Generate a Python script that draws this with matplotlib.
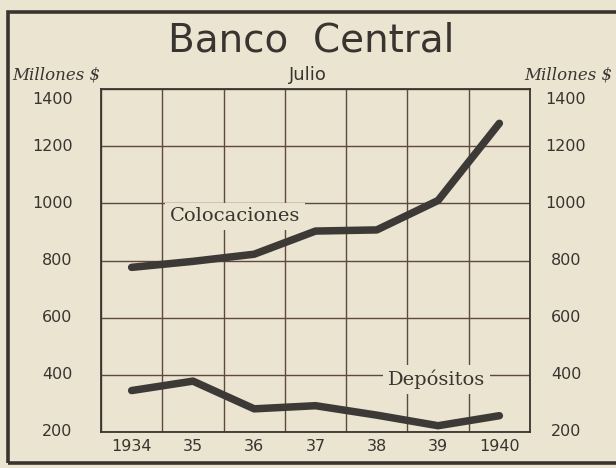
import matplotlib
matplotlib.use("Agg")
import matplotlib.pyplot as plt
from matplotlib.patches import Rectangle

# Banco Central, July balances (millones $)
years = [1934, 1935, 1936, 1937, 1938, 1939, 1940]
year_labels = ["1934", "35", "36", "37", "38", "39", "1940"]
colocaciones = [776, 797, 822, 903, 907, 1010, 1280]
depositos = [345, 378, 281, 292, 259, 222, 257]
y_ticks = [200, 400, 600, 800, 1000, 1200, 1400]

PAPER = "#EAE4D0"
INK = "#3a3431"
GRID = "#5e4840"
LINE = "#3d3937"

fig = plt.figure(figsize=(6.16, 4.68), dpi=100, facecolor=PAPER)
ax = fig.add_axes([101 / 616, 1 - 432 / 468, 429 / 616, 343 / 468])
ax.set_facecolor(PAPER)

# outer frame of the plate
fig.patches.append(Rectangle((8 / 616, 1 - 463 / 468), 700 / 616, 451 / 468,
                             transform=fig.transFigure, fill=False,
                             edgecolor=INK, lw=2.6, zorder=0))

for vals in (colocaciones, depositos):
    ax.plot(years, vals, color=LINE, lw=5.4, solid_capstyle="round",
            solid_joinstyle="round", zorder=3)

ax.set_xlim(years[0] - 0.5, years[-1] + 0.5)
ax.set_ylim(200, 1400)
ax.set_xticks(years)
ax.set_xticklabels(year_labels)
ax.set_xticks([y - 0.5 for y in years] + [years[-1] + 0.5], minor=True)
ax.set_yticks(y_ticks)
ax.set_yticklabels([])
ax.grid(True, which="minor", axis="x", color=GRID, lw=1.0)
ax.grid(True, which="major", axis="y", color=GRID, lw=1.0)
ax.tick_params(which="both", length=0)
ax.tick_params(axis="x", pad=5, labelsize=11.5, colors=INK)
for side in ax.spines.values():
    side.set_color(INK)
    side.set_linewidth(1.3)

# value scale on both sides (1400 sits a bit lower, under the unit label)
for v in y_ticks:
    yy = (v - 200) / 1200 - (0.03 if v == 1400 else 0)
    ax.text(-0.066, yy, str(v), transform=ax.transAxes,
            ha="right", va="center", fontsize=11.5, color=INK)
    ax.text(1.084, yy, str(v), transform=ax.transAxes,
            ha="center", va="center", fontsize=11.5, color=INK)

# series labels with paper-coloured boxes over the grid
box = dict(boxstyle="square,pad=0.25", fc=PAPER, ec="none")
ax.text(1935.69, 954, "Colocaciones", ha="center", va="center", fontsize=14,
        family="DejaVu Serif", color=INK, bbox=box, zorder=4)
ax.text(1938.98, 383, "Depósitos", ha="center", va="center", fontsize=14,
        family="DejaVu Serif", color=INK, bbox=box, zorder=4)

fig.text(311 / 616, 1 - 40 / 468, "Banco  Central", ha="center", va="center",
         fontsize=28, color=INK)
fig.text(308 / 616, 1 - 75 / 468, "Julio", ha="center", va="center",
         fontsize=13, color=INK)
fig.text(12 / 616, 1 - 75 / 468, "Millones $", ha="left", va="center",
         fontsize=12, style="italic", family="DejaVu Serif", color=INK)
fig.text(612 / 616, 1 - 75 / 468, "Millones $", ha="right", va="center",
         fontsize=12, style="italic", family="DejaVu Serif", color=INK)

fig.savefig("out.png", dpi=100, facecolor=PAPER)
